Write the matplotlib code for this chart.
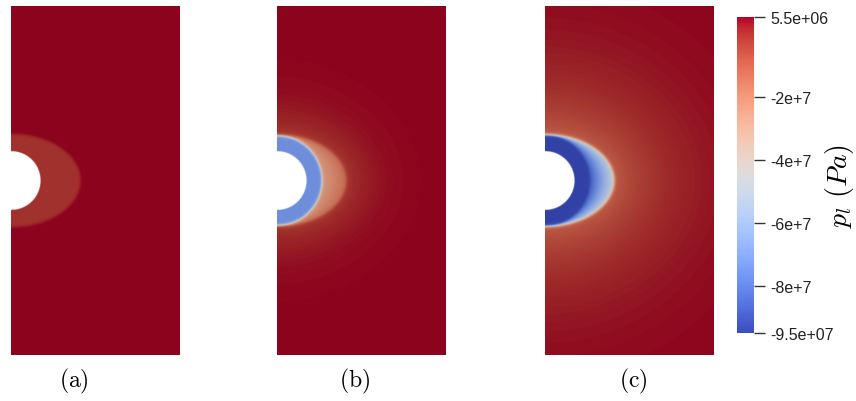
import numpy as np
import matplotlib
matplotlib.use('Agg')
import matplotlib.pyplot as plt
from matplotlib.colors import Normalize, ListedColormap

plt.rcParams['mathtext.fontset'] = 'cm'

# data: pressure levels in each zone (Pa), per panel
panel_labels = ['(a)', '(b)', '(c)']
p_ring = [-1.0e6, -7.4e7, -9.5e7]      # inner ring next to the hole
p_zone_in = [-1.0e6, -2.6e7, -8.8e7]   # zone value just outside the ring
p_zone_out = [-1.0e6, -1.4e7, -4.6e7]  # zone value at the zone edge
p_near = [5.5e6, -2.0e6, -1.0e7]       # just outside the zone
p_far = [5.5e6, 5.5e6, 5.5e6]          # far field
decay = [0.1, 0.15, 0.3]

cbar_ticks = [5.5e6, -2e7, -4e7, -6e7, -8e7, -9.5e7]
cbar_ticklabels = ['5.5e+06', '-2e+7', '-4e+7', '-6e+7', '-8e+7', '-9.5e+07']
vmin, vmax = -9.5e7, 5.5e6

# geometry (domain width 1)
W, H = 1.0, 2.065
r_hole = 0.172
r_ring = 0.265
a_ell, b_ell = 0.41, 0.275

nx, ny = 340, 700
x = np.linspace(0, W, nx)
y = np.linspace(-H / 2, H / 2, ny)
X, Y = np.meshgrid(x, y)
R = np.hypot(X, Y)
TH = np.arctan2(Y, X)
R_edge = 1.0 / np.sqrt((np.cos(TH) / a_ell) ** 2 + (np.sin(TH) / b_ell) ** 2)


def step(u, w):
    return 0.5 * (1 + np.tanh(u / w))


def build_field(i):
    t = np.clip((R - r_ring) / np.maximum(R_edge - r_ring, 1e-3), 0, 1)
    zone = p_zone_in[i] + (p_zone_out[i] - p_zone_in[i]) * t
    inner = p_ring[i] + (zone - p_ring[i]) * step(R - r_ring, 0.008)
    d = np.clip(R - R_edge, 0, None)
    outer = p_far[i] + (p_near[i] - p_far[i]) * np.exp(-d / decay[i])
    return inner + (outer - inner) * step(R - R_edge, 0.01)


# shaded version of the colormap for the rendered field
base = plt.get_cmap('coolwarm')
v = np.linspace(0, 1, 256)
rgb = base(v)[:, :3]
fac = np.interp(v, [0, 0.5, 1], [0.86, 0.9, 0.78])
field_cmap = ListedColormap(rgb * fac[:, None])
norm = Normalize(vmin=vmin, vmax=vmax)

fig = plt.figure(figsize=(8.56, 4.02), dpi=100)
lefts = [11, 277, 545]
label_x = [74, 355, 633]
for i in range(3):
    ax = fig.add_axes([lefts[i] / 856, 46 / 402, 169 / 856, 349 / 402])
    p = build_field(i)
    img = field_cmap(norm(p))
    img[..., 3] = np.clip((R - r_hole) / 0.004, 0, 1)
    ax.imshow(img, origin='lower', extent=[0, W, -H / 2, H / 2],
              aspect='auto', interpolation='bilinear')
    ax.set_xlim(0, W)
    ax.set_ylim(-H / 2, H / 2)
    ax.axis('off')
    fig.text(label_x[i] / 856, 1 - 381 / 402,
             r'$\mathrm{' + panel_labels[i] + '}$', ha='center',
             va='center', fontsize=17)

cax = fig.add_axes([737 / 856, 68 / 402, 17 / 856, 316 / 402])
sm = plt.cm.ScalarMappable(norm=norm, cmap=base)
cb = fig.colorbar(sm, cax=cax)
cb.outline.set_visible(False)
cb.set_ticks(cbar_ticks)
cb.set_ticklabels(cbar_ticklabels)
cax.tick_params(length=8, width=1, color='#333333', labelsize=11.5,
                labelcolor='#222222', pad=4)
for lab in cax.get_yticklabels():
    lab.set_family('Liberation Sans')

fig.text(840 / 856, 1 - 186 / 402, r'$p_l\ (Pa)$', rotation=90,
         ha='center', va='center', fontsize=20)

fig.savefig('out.png', dpi=100)
